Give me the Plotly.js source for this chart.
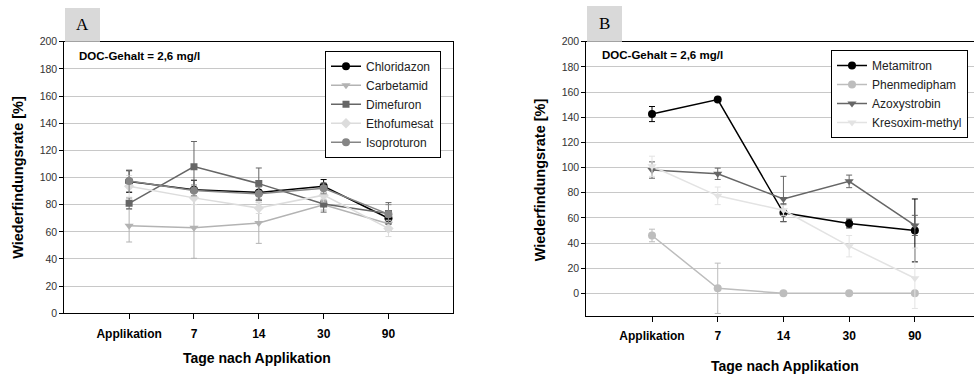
<!DOCTYPE html>
<html>
<head>
<meta charset="utf-8">
<script src="https://cdn.plot.ly/plotly-3.0.1.min.js"></script>
<style>html,body{margin:0;padding:0;background:#fff;}#chart{width:974px;height:376px;}</style>
</head>
<body>
<div id="chart"></div>
<script>
// ---- data ----
const categories = ["Applikation", "7", "14", "30", "90"];

// Panel A
const namesA = ["Chloridazon", "Carbetamid", "Dimefuron", "Ethofumesat", "Isoproturon"];
const chloridazon      = [97, 91, 89, 93.5, 70];
const chloridazonErr   = [8, 7, 6, 5, 4];
const carbetamid       = [64.5, 63, 66.5, 80, 66];
const carbetamidErr    = [12, 22.5, 15, 4, 5];
const dimefuron        = [81, 108, 95.5, 80.5, 73.5];
const dimefuronErr     = [4, 18.5, 11.5, 6, 8];
const ethofumesat      = [93.5, 85, 77.5, 87, 62.5];
const ethofumesatErr   = [8, 5, 4, 5, 6];
const isoproturon      = [97.5, 90.5, 88, 92, 73];
const isoproturonErr   = [8, 4, 5, 4, 7];

// Panel B
const namesB = ["Metamitron", "Phenmedipham", "Azoxystrobin", "Kresoxim-methyl"];
const metamitron       = [142.5, 154, 64, 55.5, 50];
const metamitronErr    = [6, 1, 7, 3.5, 25];
const phenmedipham     = [46, 4, 0, 0, 0];
const phenmediphamErr  = [5, 20, 0, 0, 0];
const azoxystrobin     = [98, 95, 75, 89, 54];
const azoxystrobinErr  = [6.5, 4.5, 18, 5, 8];
const kresoxim         = [101, 77.5, 66, 37.5, 12];
const kresoximErr      = [8, 7, 4, 8.5, 24];

const yTicks = [0, 20, 40, 60, 80, 100, 120, 140, 160, 180, 200];

// ---- helpers ----
const W = 974, H = 376;
const px = v => v / W;
const py = v => 1 - v / H;

function tr(name, y, err, color, symbol, size, xa, ya, leg) {
  return {
    type: "scatter", mode: "lines+markers", name: name,
    x: categories, y: y,
    xaxis: xa, yaxis: ya, legend: leg,
    line: {color: color, width: 1.5},
    marker: {color: color, symbol: symbol, size: size},
    error_y: {type: "data", array: err, visible: true, color: color, thickness: 1, width: 3}
  };
}

const data = [
  tr(namesA[0], chloridazon, chloridazonErr, "#000000", "circle", 8, "x", "y", "legend"),
  tr(namesA[1], carbetamid, carbetamidErr, "#b3b3b3", "triangle-down", 8, "x", "y", "legend"),
  tr(namesA[2], dimefuron, dimefuronErr, "#666666", "square", 7, "x", "y", "legend"),
  tr(namesA[3], ethofumesat, ethofumesatErr, "#dcdcdc", "diamond", 8, "x", "y", "legend"),
  tr(namesA[4], isoproturon, isoproturonErr, "#858585", "circle", 8, "x", "y", "legend"),
  tr(namesB[0], metamitron, metamitronErr, "#000000", "circle", 8, "x2", "y2", "legend2"),
  tr(namesB[1], phenmedipham, phenmediphamErr, "#bdbdbd", "circle", 8, "x2", "y2", "legend2"),
  tr(namesB[2], azoxystrobin, azoxystrobinErr, "#666666", "triangle-down", 8, "x2", "y2", "legend2"),
  tr(namesB[3], kresoxim, kresoximErr, "#e3e3e3", "triangle-down", 8, "x2", "y2", "legend2")
];

const FONT = "Arial, 'Liberation Sans', sans-serif";
const SERIF = "'Times New Roman', 'Liberation Serif', serif";

function xAxis(domain, range, mirror) {
  return {
    domain: domain, type: "category", range: range,
    showline: true, linecolor: "#000", linewidth: 1, mirror: mirror,
    ticks: "outside", ticklen: 5, tickcolor: "#000",
    showgrid: false, zeroline: false, fixedrange: true,
    tickfont: {family: FONT, size: 12, color: "#000", weight: "bold"},
    ticklabelstandoff: 4
  };
}
function yAxis(domain, range, mirror, anchor) {
  return {
    domain: domain, range: range, anchor: anchor,
    tickmode: "array", tickvals: yTicks,
    showline: true, linecolor: "#000", linewidth: 1, mirror: mirror,
    ticks: "outside", ticklen: 4, tickcolor: "#000",
    showgrid: true, gridcolor: "#c8c8c8", gridwidth: 1,
    zeroline: false, fixedrange: true,
    tickfont: {family: FONT, size: 10.5, color: "#333"}
  };
}

function ann(text, x, y, size, opts) {
  return Object.assign({
    text: text, xref: "paper", yref: "paper", x: px(x), y: py(y),
    xanchor: "center", yanchor: "middle", showarrow: false,
    font: {family: FONT, size: size, weight: "bold", color: "#000"}
  }, opts || {});
}

const layout = {
  width: W, height: H,
  margin: {l: 0, r: 0, t: 0, b: 0},
  paper_bgcolor: "#fff", plot_bgcolor: "#fff",
  font: {family: FONT, color: "#000"},
  xaxis: Object.assign(xAxis([px(64.3), px(453.3)], [-1, 5], true), {anchor: "y"}),
  yaxis: yAxis([py(313.3), py(41.7)], [0, 200], true, "x"),
  xaxis2: Object.assign(xAxis([px(586.3), 1], [-1, 4.9], true), {anchor: "y2"}),
  yaxis2: yAxis([py(316), py(41.7)], [-18, 200], false, "x2"),
  legend: {
    x: px(325), y: py(50.7), xanchor: "left", yanchor: "top",
    bgcolor: "#fff", bordercolor: "#000", borderwidth: 1,
    font: {family: FONT, size: 12, color: "#222"}, tracegroupgap: 0
  },
  legend2: {
    x: px(831), y: py(50), xanchor: "left", yanchor: "top",
    bgcolor: "#fff", bordercolor: "#000", borderwidth: 1,
    font: {family: FONT, size: 12, color: "#222"}, tracegroupgap: 0
  },
  shapes: [
    {type: "rect", xref: "paper", yref: "paper", x0: px(65), x1: px(100), y0: py(41.7), y1: py(8),
     fillcolor: "#d9d9d9", line: {width: 0}},
    {type: "rect", xref: "paper", yref: "paper", x0: px(587), x1: px(622), y0: py(41.7), y1: py(6),
     fillcolor: "#d9d9d9", line: {width: 0}}
  ],
  annotations: [
    ann("A", 82.5, 25, 17, {font: {family: SERIF, size: 17, color: "#000"}}),
    ann("B", 604.5, 24, 17, {font: {family: SERIF, size: 17, color: "#000"}}),
    ann("DOC-Gehalt = 2,6 mg/l", 77, 56, 11.5, {xanchor: "left"}),
    ann("DOC-Gehalt = 2,6 mg/l", 600, 55, 11.5, {xanchor: "left"}),
    ann("Tage nach Applikation", 256.7, 358, 14),
    ann("Tage nach Applikation", 785, 366, 14),
    ann("Wiederfindungsrate [%]", 18.3, 177.5, 14.5, {textangle: -90}),
    ann("Wiederfindungsrate [%]", 540.3, 180, 14.5, {textangle: -90})
  ]
};

Plotly.newPlot("chart", data, layout, {staticPlot: true, displayModeBar: false});
</script>
</body>
</html>
